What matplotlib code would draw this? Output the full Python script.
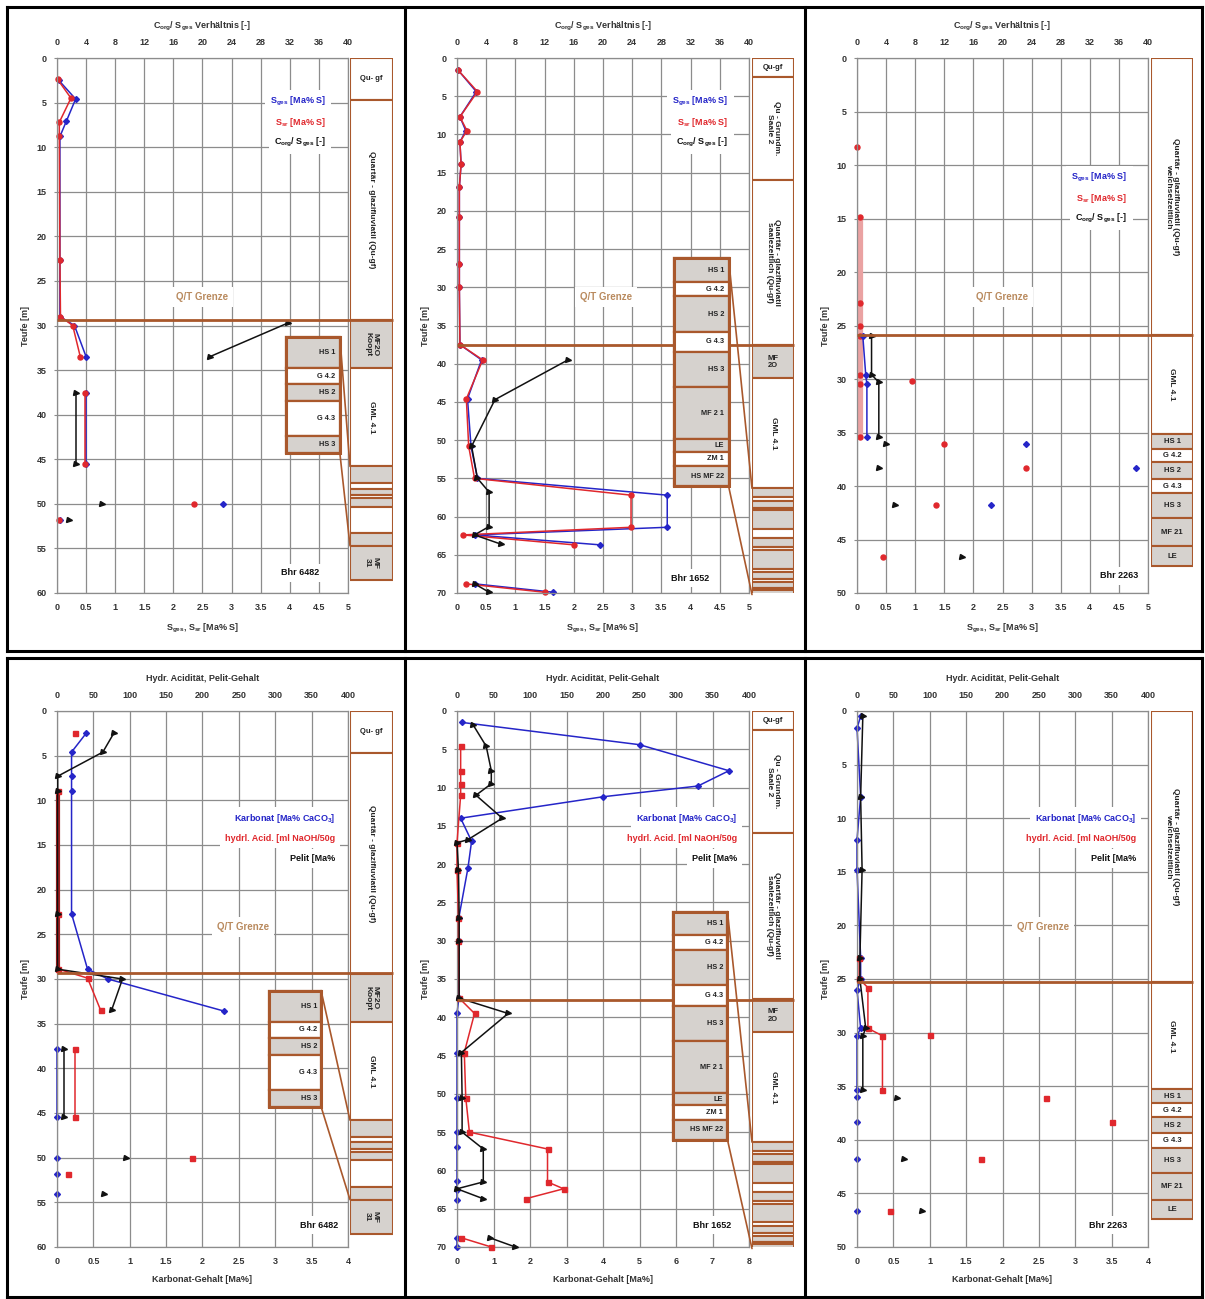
import matplotlib

matplotlib.use("Agg")
import matplotlib.pyplot as plt
from matplotlib.lines import Line2D
from matplotlib.patches import ConnectionPatch, Rectangle

plt.rcParams["font.family"] = ["Liberation Sans", "DejaVu Sans"]
plt.rcParams["font.weight"] = "bold"
plt.rcParams["font.size"] = 6.5
plt.rcParams["axes.labelweight"] = "bold"
plt.rcParams["mathtext.fontset"] = "custom"
plt.rcParams["mathtext.rm"] = "Liberation Sans:bold"
plt.rcParams["mathtext.default"] = "rm"

BLUE = "#2525c8"
RED = "#e0282d"
BLACK = "#111111"
BROWN = "#a9582c"
QT_TXT = "#b98a5e"
GREY = "#d6d2ce"
GRID = "#8c8c8c"
TICK = "#333333"

# ---------------------------------------------------------------- axes / labels
TICKS_S = [0, 0.5, 1, 1.5, 2, 2.5, 3, 3.5, 4, 4.5, 5]
TICKS_CS = [0, 4, 8, 12, 16, 20, 24, 28, 32, 36, 40]
TICKS_K4 = [0, 0.5, 1, 1.5, 2, 2.5, 3, 3.5, 4]
TICKS_K8 = [0, 1, 2, 3, 4, 5, 6, 7, 8]
TICKS_HP = [0, 50, 100, 150, 200, 250, 300, 350, 400]
LBL_S = "S$_{ges}$, S$_{sr}$ [Ma% S]"
LBL_CS = "C$_{org}$/ S$_{ges}$ Verhältnis [-]"
LBL_K = "Karbonat-Gehalt [Ma%]"
LBL_HP = "Hydr. Acidität, Pelit-Gehalt"
LEG_S = [("S$_{ges}$ [Ma% S]", BLUE), ("S$_{sr}$ [Ma% S]", RED), ("C$_{org}$/ S$_{ges}$ [-]", BLACK)]
LEG_K = [("Karbonat [Ma% CaCO$_3$]", BLUE), ("hydrl. Acid. [ml NaOH/50g", RED), ("Pelit [Ma%", BLACK)]

# ---------------------------------------------------------------- Bhr 6482, Schwefel
a_sges_d = [2.5, 4.6, 7.1, 8.8, 22.6, 29.0, 30.0, 33.5]
a_sges_v = [0.03, 0.32, 0.16, 0.05, 0.05, 0.05, 0.30, 0.50]
a_ssr_d = [2.4, 4.5, 7.2, 8.8, 22.6, 29.0, 30.0, 33.5]
a_ssr_v = [0.01, 0.24, 0.04, 0.04, 0.05, 0.06, 0.27, 0.40]
a_corg_d = [29.7, 33.5]
a_corg_v = [31.8, 21.0]
a_int_d = [37.6, 45.5]
a_int_sges = [0.50, 0.50]
a_int_ssr = [0.48, 0.48]
a_int_corg = [2.6, 2.6]
a_pt_d = [50.0, 51.8]
a_pt_sges = [2.85, 0.06]
a_pt_ssr = [2.35, 0.03]
a_pt_corg = [6.2, 1.6]

# ---------------------------------------------------------------- Bhr 1652, Schwefel
b_d = [1.6, 4.4, 7.7, 9.5, 11.0, 13.9, 16.9, 20.8, 27.0, 30.0, 37.5, 39.5, 44.6,
       50.8, 55.0, 57.2, 61.4, 62.4, 63.7]
b_ssr = [0.02, 0.35, 0.05, 0.17, 0.05, 0.07, 0.04, 0.04, 0.04, 0.04, 0.05, 0.44, 0.16,
         0.20, 0.30, 2.98, 2.98, 0.10, 2.00]
b_sges = [0.02, 0.33, 0.05, 0.15, 0.05, 0.07, 0.04, 0.04, 0.04, 0.04, 0.05, 0.42, 0.18,
          0.24, 0.35, 3.60, 3.60, 0.30, 2.45]
b_corg_d = [39.5, 44.7, 50.8, 55.0, 56.8, 61.3, 62.4, 63.6]
b_corg_v = [15.2, 5.2, 2.0, 2.8, 4.4, 4.4, 2.4, 6.0]
b2_d = [68.8, 69.9]
b2_ssr = [0.15, 1.5]
b2_sges = [0.30, 1.65]
b2_corg = [2.4, 4.4]

# ---------------------------------------------------------------- Bhr 2263, Schwefel
c_ssr_d = [8.3, 14.9, 22.9, 25.0, 26.0, 29.6, 30.5, 35.4]
c_ssr_v = [0.0, 0.05, 0.05, 0.05, 0.05, 0.05, 0.05, 0.05]
c_sges_d = [26.0, 29.6, 30.5, 35.4]
c_sges_v = [0.10, 0.15, 0.17, 0.17]
c_corg_d = [26.0, 29.6, 30.3, 35.4]
c_corg_v = [2.0, 2.0, 3.0, 3.0]
c_ptr_d = [30.2, 36.1, 38.3, 41.8, 46.6]
c_ptr_v = [0.95, 1.5, 2.9, 1.35, 0.45]
c_ptb_d = [36.1, 38.3, 41.8]
c_ptb_v = [2.9, 4.8, 2.3]
c_ptk_d = [36.1, 38.3, 41.8, 46.6]
c_ptk_v = [4.0, 3.0, 5.2, 14.4]

# ---------------------------------------------------------------- Bhr 6482, Karbonat / Acid. / Pelit
d_karb_d = [2.5, 4.6, 7.3, 8.9, 22.7, 28.9, 30.0, 33.6]
d_karb_v = [0.40, 0.20, 0.20, 0.20, 0.20, 0.42, 0.70, 2.30]
d_acid_d = [8.9, 22.7, 28.9, 29.9, 33.5]
d_acid_v = [2, 2, 2, 42, 60]
d_pelit_d = [2.5, 4.6, 7.3, 8.9, 22.7, 28.9, 30.0, 33.5]
d_pelit_v = [78, 63, 1, 1, 1, 1, 90, 75]
d_int_d = [37.8, 45.5]
d_int_karb = [0.0, 0.0]
d_int_acid = [25, 25]
d_int_pelit = [10, 10]
d_ptb_d = [50.0, 51.8, 54.1]
d_ptb_v = [0.0, 0.0, 0.0]
d_ptr_d = [2.5, 50.0, 51.8]
d_ptr_v = [25, 185, 15]
d_ptk_d = [50.0, 54.1]
d_ptk_v = [95, 65]

# ---------------------------------------------------------------- Bhr 1652, Karbonat / Acid. / Pelit
e_karb_d = [1.5, 4.4, 7.8, 9.8, 11.2, 14.0, 17.0, 20.5, 27.0, 30.0, 37.5, 39.5, 44.7,
            50.5, 55.0, 57.0, 61.4, 62.5, 63.8]
e_karb_v = [0.15, 5.0, 7.45, 6.6, 4.0, 0.1, 0.4, 0.3, 0.05, 0.05, 0.05, 0.0, 0.0,
            0.0, 0.0, 0.0, 0.0, 0.0, 0.0]
e_acid_d = [4.6, 7.8, 9.5, 11.0, 17.2, 20.7, 27.0, 30.0, 37.5, 39.5, 44.6, 50.5, 55.0,
            57.2, 61.5, 62.4, 63.7]
e_acid_v = [5, 5, 5, 5, 0, 0, 2, 2, 3, 24, 10, 12, 17, 124, 124, 146, 94]
e_pelit_d = [1.8, 4.6, 7.8, 9.5, 11.0, 14.0, 16.8, 17.2, 20.7, 27.0, 30.0, 37.5, 39.5,
             44.6, 50.5, 55.0, 57.2, 61.5, 62.4, 63.7]
e_pelit_v = [22, 40, 47, 47, 26, 62, 15, 0, 2, 3, 3, 3, 70, 6, 7, 7, 36, 36, 0, 36]
e2_d = [68.8, 70.0]
e2_karb = [0.0, 0.0]
e2_acid = [6, 47]
e2_pelit = [45, 80]

# ---------------------------------------------------------------- Bhr 2263, Karbonat / Acid. / Pelit
f_karb_d = [0.5, 1.6, 8.0, 12.0, 14.8, 23.0, 25.0, 26.0, 29.6, 30.3, 35.4]
f_karb_v = [0.05, 0.0, 0.05, 0.0, 0.0, 0.05, 0.05, 0.0, 0.05, 0.0, 0.0]
f_ptb_d = [36.0, 38.3, 41.8, 46.6]
f_ptb_v = [0.0, 0.0, 0.0, 0.0]
f_pelit_d = [0.5, 8.0, 14.8, 23.0, 25.0, 29.6, 30.3, 35.4]
f_pelit_v = [8, 5, 7, 4, 4, 12, 8, 8]
f_ptk_d = [36.1, 41.8, 46.6]
f_ptk_v = [55, 65, 90]
f_acid_d = [23.0, 25.0, 25.8, 29.6, 30.3, 35.4]
f_acid_v = [3, 3, 15, 15, 35, 35]
f_ptr_d = [30.2, 36.1, 38.3, 41.8, 46.6]
f_ptr_v = [100, 260, 350, 170, 45]

# ---------------------------------------------------------------- Schichten: (Top, Basis, Text, grau, Drehung)
strata_6482 = [
    (0.0, 4.7, "Qu- gf", False, 0),
    (4.7, 29.4, "Quartär - glazifluviatil (Qu-gf)", False, 270),
    (29.4, 34.8, "MF2O\nKoopt", True, 270),
    (34.8, 45.8, "GML 4.1", False, 270),
    (45.8, 47.7, "", True, 0),
    (47.7, 48.3, "", False, 0),
    (48.3, 49.0, "", True, 0),
    (49.0, 49.4, "", False, 0),
    (49.4, 50.3, "", True, 0),
    (50.3, 53.3, "", False, 0),
    (53.3, 54.7, "", True, 0),
    (54.7, 58.5, "MF\n31", True, 270),
]
strata_1652 = [
    (0.0, 2.5, "Qu-gf", False, 0),
    (2.5, 15.9, "Qu - Grundm.\nSaale 2", False, 270),
    (15.9, 37.6, "Quartär - glazifluviatil\nsaalezeitlich (Qu-gf)", False, 270),
    (37.6, 41.9, "MF\n2O", True, 0),
    (41.9, 56.3, "GML 4.1", False, 270),
    (56.3, 57.4, "", True, 0),
    (57.4, 57.9, "", False, 0),
    (57.9, 58.9, "", True, 0),
    (58.9, 59.2, "", False, 0),
    (59.2, 61.6, "", True, 0),
    (61.6, 62.8, "", False, 0),
    (62.8, 64.0, "", True, 0),
    (64.0, 64.4, "", False, 0),
    (64.4, 66.8, "", True, 0),
    (66.8, 67.3, "", False, 0),
    (67.3, 68.2, "", True, 0),
    (68.2, 68.6, "", False, 0),
    (68.6, 69.3, "", True, 0),
    (69.3, 69.6, "", False, 0),
    (69.6, 70.2, "", True, 0),
]
strata_2263 = [
    (0.0, 25.9, "Quartär - glazifluviatil (Qu-gf)\nweichselzeitlich", False, 270),
    (25.9, 35.1, "GML 4.1", False, 270),
    (35.1, 36.5, "HS 1", True, 0),
    (36.5, 37.8, "G 4.2", False, 0),
    (37.8, 39.3, "HS 2", True, 0),
    (39.3, 40.7, "G 4.3", False, 0),
    (40.7, 43.0, "HS 3", True, 0),
    (43.0, 45.6, "MF 21", True, 0),
    (45.6, 47.5, "LE", True, 0),
]
strata_2263b = [
    (0.0, 25.3, "Quartär - glazifluviatil (Qu-gf)\nweichselzeitlich", False, 270),
    (25.3, 35.3, "GML 4.1", False, 270),
    (35.3, 36.6, "HS 1", True, 0),
    (36.6, 37.9, "G 4.2", False, 0),
    (37.9, 39.4, "HS 2", True, 0),
    (39.4, 40.8, "G 4.3", False, 0),
    (40.8, 43.1, "HS 3", True, 0),
    (43.1, 45.6, "MF 21", True, 0),
    (45.6, 47.4, "LE", True, 0),
]
inset_6482 = [
    (31.3, 34.8, "HS 1", True),
    (34.8, 36.6, "G 4.2", False),
    (36.6, 38.5, "HS 2", True),
    (38.5, 42.4, "G 4.3", False),
    (42.4, 44.3, "HS 3", True),
]
inset_1652 = [
    (26.2, 29.3, "HS 1", True),
    (29.3, 31.2, "G 4.2", False),
    (31.2, 35.8, "HS 2", True),
    (35.8, 38.5, "G 4.3", False),
    (38.5, 43.1, "HS 3", True),
    (43.1, 49.9, "MF 2 1", True),
    (49.9, 51.5, "LE", True),
    (51.5, 53.4, "ZM 1", False),
    (53.4, 56.0, "HS MF 22", True),
]

# ---------------------------------------------------------------- layout (pixels)
W, H = 1205, 1299
PLOT_X = [(57, 348), (457, 749), (857, 1148)]
COL_X = [(350, 393), (752, 794), (1151, 1193)]
ROW_Y = [(58, 593), (711, 1247)]
FRAME_X = [7, 405, 805, 1202]
FRAME_Y = [(7, 651), (658, 1297)]

fig = plt.figure(figsize=(W / 100, H / 100), dpi=100)


def rect(x0, x1, y0, y1):
    return [x0 / W, 1 - y1 / H, (x1 - x0) / W, (y1 - y0) / H]


def panel(ci, ri, xb, xt, dmax, lbl_b, lbl_t, strata, qt):
    x0, x1 = PLOT_X[ci]
    y0, y1 = ROW_Y[ri]
    s0, s1 = COL_X[ci]
    ax = fig.add_axes(rect(x0, x1, y0, y1))
    ax.set_xlim(xb[0], xb[-1])
    ax.set_ylim(dmax, 0)
    ax.set_xticks(xb)
    ax.set_xticklabels([f"{t:g}" for t in xb])
    ax.set_yticks(list(range(0, dmax + 1, 5)))
    ax.grid(True, color=GRID, lw=0.9)
    ax.set_axisbelow(True)
    for sp in ax.spines.values():
        sp.set_color(GRID)
        sp.set_linewidth(0.9)
    ax.tick_params(axis="x", length=0, pad=7, labelcolor=TICK)
    ax.tick_params(axis="y", length=2.5, color=GRID, pad=5, labelcolor=TICK)
    ax.set_xlabel(lbl_b, labelpad=7, color=TICK)
    ax.set_ylabel("Teufe [m]", labelpad=5, color=TICK)

    ax2 = ax.twiny()
    ax2.set_xlim(xt[0], xt[-1])
    ax2.set_xticks(xt)
    ax2.tick_params(axis="x", length=0, pad=8, labelcolor=TICK)
    for sp in ax2.spines.values():
        sp.set_visible(False)
    ax2.set_xlabel(lbl_t, labelpad=7, color=TICK)

    sax = fig.add_axes(rect(s0, s1, y0, y1))
    sax.set_xlim(0, 1)
    sax.set_ylim(dmax, 0)
    sax.axis("off")
    for top, bot, label, grey, rot in strata:
        sax.add_patch(Rectangle((0, top), 1, bot - top, facecolor=GREY if grey else "white",
                                edgecolor=BROWN, lw=1.5))
        if label:
            sax.text(0.5, (top + bot) / 2, label, rotation=rot, ha="center", va="center",
                     fontsize=5.5 if rot == 0 else 6, linespacing=1.1, color="#222222")
    left = (x0 - s0) / (s1 - s0)
    sax.plot([left, 1], [qt, qt], transform=sax.get_yaxis_transform(), color=BROWN,
             lw=2, clip_on=False, solid_capstyle="butt")
    return ax, ax2, sax


def inset(ax, sax, xr, entries, col_top, col_bot):
    top, bot = entries[0][0], entries[-1][1]
    inv = fig.transFigure.inverted()
    f0 = inv.transform(ax.transData.transform((xr[0], bot)))
    f1 = inv.transform(ax.transData.transform((xr[1], top)))
    iax = fig.add_axes([f0[0], f0[1], f1[0] - f0[0], f1[1] - f0[1]], zorder=5)
    iax.set_xlim(0, 1)
    iax.set_ylim(bot, top)
    iax.axis("off")
    for t, b, label, grey in entries:
        iax.add_patch(Rectangle((0, t), 1, b - t, facecolor=GREY if grey else "white",
                                edgecolor=BROWN, lw=1.6, clip_on=False))
        iax.text(0.92, (t + b) / 2, label, ha="right", va="center", fontsize=5.3,
                 color="#222222")
    iax.add_patch(Rectangle((0, top), 1, bot - top, fill=False, edgecolor=BROWN, lw=2.2,
                            clip_on=False))
    for yi, yc in ((top, col_top), (bot, col_bot)):
        fig.add_artist(ConnectionPatch(xyA=(1, yi), coordsA=iax.transData, xyB=(0, yc),
                                       coordsB=sax.transData, color=BROWN, lw=1.2, zorder=6))


def texts(ax2, legend, leg_x, leg_y, qt_xy, bhr, bhr_xy):
    for i, (txt, col) in enumerate(legend):
        ax2.text(leg_x, 1 - leg_y - i * 0.038, txt, transform=ax2.transAxes, color=col,
                 ha="right", va="center", fontsize=6.5, zorder=5,
                 bbox=dict(boxstyle="square,pad=0.55", fc="white", ec="none"))
    if qt_xy is not None:
        ax2.text(qt_xy[0], 1 - qt_xy[1], "Q/T Grenze", transform=ax2.transAxes, color=QT_TXT,
                 ha="center", va="center", fontsize=7, zorder=5,
                 bbox=dict(boxstyle="square,pad=0.5", fc="white", ec="none"))
    ax2.text(bhr_xy[0], 1 - bhr_xy[1], bhr, transform=ax2.transAxes, color=BLACK,
             ha="right", va="center", fontsize=6.5, zorder=5,
             bbox=dict(boxstyle="square,pad=0.5", fc="white", ec="none"))


def blue(ax, v, d, line=True):
    ax.plot(v, d, color=BLUE, lw=1.1 if line else 0, marker="D", ms=3, clip_on=False)


def red(ax, v, d, line=True, mk="o"):
    ax.plot(v, d, color=RED, lw=1.1 if line else 0, marker=mk, ms=3.6, clip_on=False)


def black(ax, v, d, line=True):
    ax.plot(v, d, color=BLACK, lw=1.1 if line else 0, marker=">", ms=3.6, clip_on=False)


# ---------------------------------------------------------------- top row (Schwefel)
axA, axA2, saxA = panel(0, 0, TICKS_S, TICKS_CS, 60, LBL_S, LBL_CS, strata_6482, 29.4)
blue(axA, a_sges_v, a_sges_d)
red(axA, a_ssr_v, a_ssr_d)
black(axA2, a_corg_v, a_corg_d)
blue(axA, a_int_sges, a_int_d)
red(axA, a_int_ssr, a_int_d)
black(axA2, a_int_corg, a_int_d)
blue(axA, a_pt_sges, a_pt_d, line=False)
red(axA, a_pt_ssr, a_pt_d, line=False)
black(axA2, a_pt_corg, a_pt_d, line=False)
inset(axA, saxA, (3.93, 4.86), inset_6482, 45.8, 54.7)
texts(axA2, LEG_S, 0.925, 0.082, (0.50, 0.447), "Bhr 6482", (0.9, 0.962))

axB, axB2, saxB = panel(1, 0, TICKS_S, TICKS_CS, 70, LBL_S, LBL_CS, strata_1652, 37.6)
blue(axB, b_sges, b_d)
red(axB, b_ssr, b_d)
black(axB2, b_corg_v, b_corg_d)
blue(axB, b2_sges, b2_d)
red(axB, b2_ssr, b2_d)
black(axB2, b2_corg, b2_d)
inset(axB, saxB, (3.72, 4.65), inset_1652, 56.3, 70.2)
texts(axB2, LEG_S, 0.93, 0.082, (0.51, 0.447), "Bhr 1652", (0.865, 0.972))

axC, axC2, saxC = panel(2, 0, TICKS_S, TICKS_CS, 50, LBL_S, LBL_CS, strata_2263, 25.9)
axC.plot(c_ssr_v[1:], c_ssr_d[1:], color="#eaa2a2", lw=4.5, solid_capstyle="butt")
red(axC, c_ssr_v, c_ssr_d, line=False)
blue(axC, c_sges_v, c_sges_d)
black(axC2, c_corg_v, c_corg_d)
red(axC, c_ptr_v, c_ptr_d, line=False)
blue(axC, c_ptb_v, c_ptb_d, line=False)
black(axC2, c_ptk_v, c_ptk_d, line=False)
texts(axC2, LEG_S, 0.93, 0.224, (0.50, 0.447), "Bhr 2263", (0.965, 0.968))

# ---------------------------------------------------------------- bottom row (Karbonat, Acidität, Pelit)
axD, axD2, saxD = panel(0, 1, TICKS_K4, TICKS_HP, 60, LBL_K, LBL_HP, strata_6482, 29.3)
axD2.plot(d_acid_v[:3], d_acid_d[:3], color="#8b1a1a", lw=3, solid_capstyle="butt",
          clip_on=False)
red(axD2, d_acid_v, d_acid_d, mk="s")
black(axD2, d_pelit_v, d_pelit_d)
blue(axD, d_karb_v, d_karb_d)
blue(axD, d_int_karb, d_int_d)
red(axD2, d_int_acid, d_int_d, mk="s")
black(axD2, d_int_pelit, d_int_d)
blue(axD, d_ptb_v, d_ptb_d, line=False)
red(axD2, d_ptr_v, d_ptr_d, line=False, mk="s")
black(axD2, d_ptk_v, d_ptk_d, line=False)
inset(axD, saxD, (2.92, 3.63), inset_6482, 45.8, 54.7)
texts(axD2, LEG_K, 0.955, 0.20, (0.64, 0.403), "Bhr 6482", (0.965, 0.959))

axE, axE2, saxE = panel(1, 1, TICKS_K8, TICKS_HP, 70, LBL_K, LBL_HP, strata_1652, 37.7)
blue(axE, e_karb_v, e_karb_d)
red(axE2, e_acid_v, e_acid_d, mk="s")
black(axE2, e_pelit_v, e_pelit_d)
blue(axE, e2_karb, e2_d)
red(axE2, e2_acid, e2_d, mk="s")
black(axE2, e2_pelit, e2_d)
inset(axE, saxE, (5.92, 7.41), inset_1652, 56.3, 70.2)
texts(axE2, LEG_K, 0.96, 0.20, None, "Bhr 1652", (0.94, 0.959))

axF, axF2, saxF = panel(2, 1, TICKS_K4, TICKS_HP, 50, LBL_K, LBL_HP, strata_2263b, 25.3)
red(axF2, f_acid_v, f_acid_d, mk="s")
black(axF2, f_pelit_v, f_pelit_d)
blue(axF, f_karb_v, f_karb_d)
blue(axF, f_ptb_v, f_ptb_d, line=False)
black(axF2, f_ptk_v, f_ptk_d, line=False)
red(axF2, f_ptr_v, f_ptr_d, line=False, mk="s")
texts(axF2, LEG_K, 0.96, 0.20, (0.64, 0.403), "Bhr 2263", (0.93, 0.959))

# ---------------------------------------------------------------- panel frames
for fy0, fy1 in FRAME_Y:
    for xx in FRAME_X:
        fig.add_artist(Line2D([xx / W, xx / W], [1 - fy0 / H, 1 - fy1 / H], color="black",
                              lw=2.2, transform=fig.transFigure, zorder=10))
    for yy in (fy0, fy1):
        fig.add_artist(Line2D([FRAME_X[0] / W, FRAME_X[-1] / W], [1 - yy / H, 1 - yy / H],
                              color="black", lw=2.2, transform=fig.transFigure, zorder=10))

fig.savefig("out.png", dpi=100, facecolor="white")
